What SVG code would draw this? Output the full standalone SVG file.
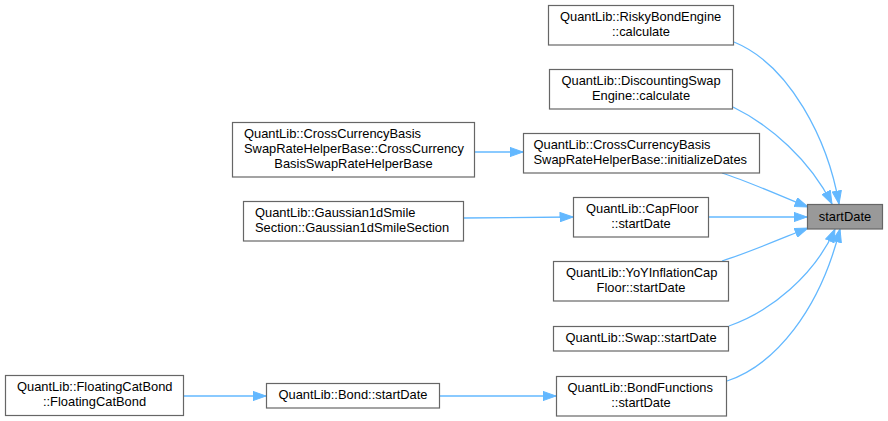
<svg xmlns="http://www.w3.org/2000/svg" width="888" height="421" viewBox="0 0 888 421">
<defs>
<style>
.n rect{fill:#ffffff;stroke:#666666;stroke-width:1.2}
.t rect{fill:#999999;stroke:#666666;stroke-width:1.2}
text{font-family:"Liberation Sans",Arial,sans-serif;font-size:12.9px;fill:#000000}
.m{text-anchor:middle}
.e path{fill:none;stroke:#63b8ff;stroke-width:1.3;marker-end:url(#a)}
</style>
<marker id="a" markerUnits="userSpaceOnUse" markerWidth="14" markerHeight="10" viewBox="0 0 13 10" refX="13" refY="5" orient="auto">
<path d="M0,0.4 L13,5 L0,9.6 z" fill="#63b8ff" stroke="#63b8ff" stroke-width="1"/>
</marker>
</defs>
<rect width="888" height="421" fill="#ffffff"/>
<g class="e" id="connectors">
<path d="M734,42 C790,65 828,140 839,204"/>
<path d="M733,107 C770,125 810,160 832,204"/>
<path d="M722,173 C750,182 785,198 808,207"/>
<path d="M708,217 L807,217"/>
<path d="M722,261 C750,252 785,237 808,228"/>
<path d="M729,326 C770,312 815,275 835,229"/>
<path d="M727,381 C775,365 820,310 840,229"/>
<path d="M475,152 L523,152"/>
<path d="M463,218 L573,217"/>
<path d="M184,396 L266,396"/>
<path d="M440,396 L556,396"/>
</g>
<g class="t" id="n_target">
<rect x="807.5" y="204.5" width="75" height="24.5"/>
<text class="m" x="845" y="220.5">startDate</text>
</g>
<g class="n" id="n_risky">
<rect x="548.5" y="5.5" width="185" height="39.5"/>
<text x="560" y="20.5">QuantLib::RiskyBondEngine</text>
<text class="m" x="641" y="35.5">::calculate</text>
</g>
<g class="n" id="n_discounting">
<rect x="549.5" y="69.5" width="183" height="39.5"/>
<text x="561.5" y="84.5">QuantLib::DiscountingSwap</text>
<text class="m" x="641" y="99.5">Engine::calculate</text>
</g>
<g class="n" id="n_initdates">
<rect x="523.5" y="133.5" width="236" height="39.5"/>
<text x="533.5" y="148.5">QuantLib::CrossCurrencyBasis</text>
<text x="533.5" y="163.5">SwapRateHelperBase::initializeDates</text>
</g>
<g class="n" id="n_ctor">
<rect x="232.5" y="122.5" width="242" height="54.5"/>
<text x="244" y="138">QuantLib::CrossCurrencyBasis</text>
<text x="244" y="153">SwapRateHelperBase::CrossCurrency</text>
<text class="m" x="353.5" y="168">BasisSwapRateHelperBase</text>
</g>
<g class="n" id="n_capfloor">
<rect x="573.5" y="197.5" width="135" height="39.5"/>
<text x="586" y="212.5">QuantLib::CapFloor</text>
<text class="m" x="641" y="227.5">::startDate</text>
</g>
<g class="n" id="n_gaussian">
<rect x="243.5" y="201.5" width="220" height="39.5"/>
<text x="255" y="216.5">QuantLib::Gaussian1dSmile</text>
<text x="255" y="231.5">Section::Gaussian1dSmileSection</text>
</g>
<g class="n" id="n_yoy">
<rect x="553.5" y="261.5" width="175" height="39.5"/>
<text x="566" y="276.5">QuantLib::YoYInflationCap</text>
<text class="m" x="641" y="291.5">Floor::startDate</text>
</g>
<g class="n" id="n_swap">
<rect x="553.5" y="326.5" width="175" height="24.5"/>
<text class="m" x="641" y="342">QuantLib::Swap::startDate</text>
</g>
<g class="n" id="n_bondfunctions">
<rect x="556.5" y="376.5" width="170" height="39.5"/>
<text x="567.5" y="391.5">QuantLib::BondFunctions</text>
<text class="m" x="641" y="406.5">::startDate</text>
</g>
<g class="n" id="n_bond">
<rect x="266.5" y="383.5" width="173" height="24.5"/>
<text class="m" x="353" y="399">QuantLib::Bond::startDate</text>
</g>
<g class="n" id="n_floatingcat">
<rect x="5.5" y="375.5" width="178" height="40"/>
<text x="17" y="390.5">QuantLib::FloatingCatBond</text>
<text class="m" x="94.5" y="405.5">::FloatingCatBond</text>
</g>
</svg>
